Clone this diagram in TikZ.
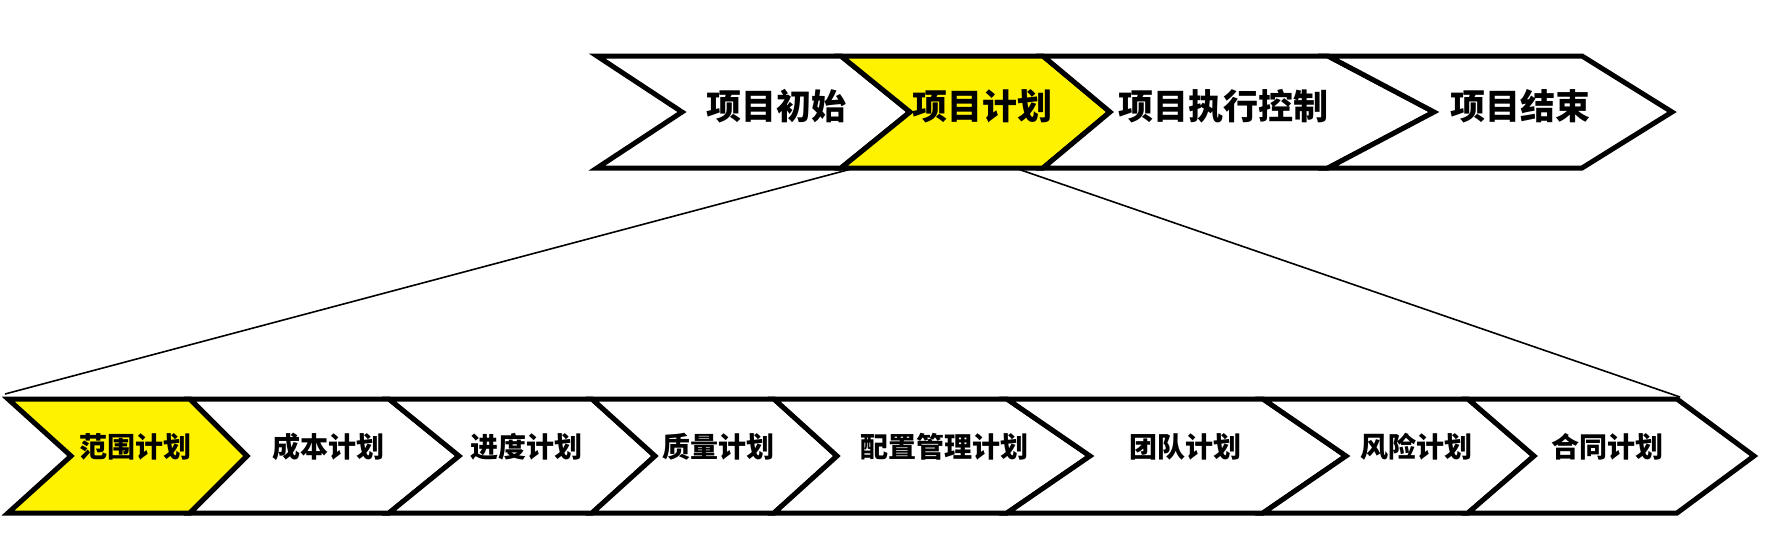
\documentclass[tikz,border=0pt]{standalone}
\usepackage{fontspec}
\setmainfont{Noto Sans CJK SC}
\begin{document}
\begin{tikzpicture}[x=1pt, y=-1pt,
  chev/.style ={draw, line width=5pt, line join=miter, fill=white},
  hot/.style  ={chev, fill=yellow},
  big/.style  ={font=\bfseries\fontsize{35}{40}\selectfont, inner sep=0pt},
  small/.style={font=\bfseries\fontsize{28}{33}\selectfont, inner sep=0pt},
  zoom/.style ={line width=1.6pt}]
\useasboundingbox (0,0) rectangle (1786,539);

% phases
\foreach \l/\lt/\r/\rt/\s/\n/\t/\x in {
    597/682/841/910/chev/p1/项目初始/776,
    841/910/1043/1110/hot/p2/项目计划/982,
    1043/1110/1328/1434/chev/p3/项目执行控制/1223,
    1328/1434/1582/1672/chev/p4/项目结束/1520}{
  \draw[\s] (\l,56) -- (\r,56) -- (\rt,112) -- (\r,168) -- (\l,168)
    -- (\lt,112) -- cycle;
  \node[big] (\n) at (\x,106) {\t};
}

% planning steps
\foreach \l/\lt/\r/\rt/\s/\n/\t/\x in {
    8/71/190/247/hot/s1/范围计划/135,
    190/247/389/459/chev/s2/成本计划/328,
    389/459/592/655/chev/s3/进度计划/526,
    592/655/774/837/chev/s4/质量计划/718,
    774/837/1007/1090/chev/s5/配置管理计划/944,
    1007/1090/1263/1346/chev/s6/团队计划/1185,
    1263/1346/1468/1534/chev/s7/风险计划/1416,
    1468/1534/1677/1754/chev/s8/合同计划/1607}{
  \draw[\s] (\l,399) -- (\r,399) -- (\rt,456) -- (\r,513) -- (\l,513)
    -- (\lt,456) -- cycle;
  \node[small] (\n) at (\x,447) {\t};
}

% zoom lines
\coordinate (zl) at (855,168);
\coordinate (zr) at (1015,168);
\coordinate (el) at (5,394);
\coordinate (er) at (1680,397);
\draw[zoom] (zl) -- (el);
\draw[zoom] (zr) -- (er);
\end{tikzpicture}
\end{document}
